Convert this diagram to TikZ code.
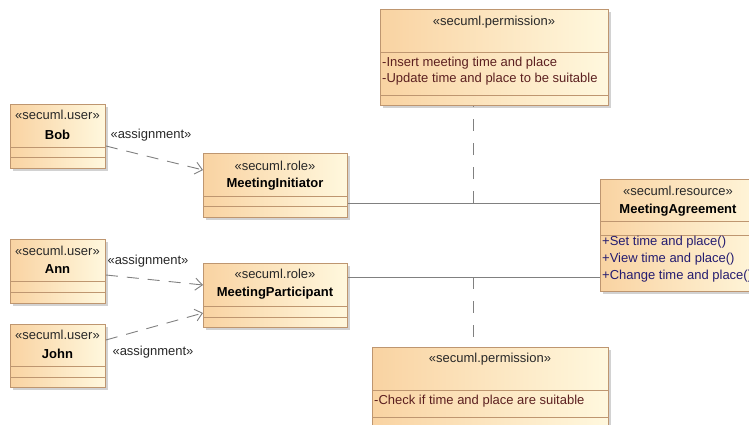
\documentclass[tikz,border=0pt]{standalone}
\usepackage{fontspec}
\setmainfont{Liberation Sans}
\usetikzlibrary{shadows,arrows.meta,calc}

\definecolor{umlorange}{RGB}{249,211,162}
\definecolor{umlpale}{RGB}{255,248,222}
\definecolor{umlborder}{RGB}{190,150,112}
\definecolor{umlline}{RGB}{128,128,128}
\definecolor{attrtext}{RGB}{92,32,32}
\definecolor{optext}{RGB}{36,28,112}
\definecolor{stereotext}{RGB}{40,40,40}

\tikzset{
  classbox/.style={draw=umlborder, line width=0.9pt, left color=umlorange,
    right color=umlpale, inner sep=0pt, anchor=north west,
    drop shadow={shadow xshift=2.5pt, shadow yshift=-2.5pt, fill=black!35, opacity=0.5}},
  compline/.style={draw=umlborder, line width=0.8pt},
  basetext/.style={inner sep=0pt, font=\fontsize{13}{16}\selectfont},
  stereo/.style={basetext, text=stereotext},
  cname/.style={basetext, font=\fontsize{13}{16}\selectfont\bfseries},
  attr/.style={basetext, anchor=west, text=attrtext},
  oper/.style={basetext, anchor=west, text=optext},
  assoc/.style={draw=umlline, line width=0.9pt},
  permdep/.style={draw=umlline, line width=0.9pt, dash pattern=on 12pt off 12pt},
  assign/.style={draw=umlline, line width=0.9pt, dash pattern=on 12pt off 9pt,
    -{Straight Barb[length=7pt,width=12pt,line width=0.9pt]}},
  asglabel/.style={basetext, text=stereotext}
}

\begin{document}
\begin{tikzpicture}[x=1pt, y=-1pt]
\useasboundingbox (0,0) rectangle (749,425);
\clip (0,0) rectangle (749,425);

% users
\node[classbox, minimum width=95pt, minimum height=64pt] (bob) at (10,104) {};
\draw[compline] ($(bob.north west)+(0,43)$) -- ($(bob.north east)+(0,43)$);
\draw[compline] ($(bob.north west)+(0,53)$) -- ($(bob.north east)+(0,53)$);
\node[stereo] (bobst) at (57.5,115) {«secuml.user»};
\node[cname] (bobnm) at (57.5,135) {Bob};

\node[classbox, minimum width=95pt, minimum height=64pt] (ann) at (10,239) {};
\draw[compline] ($(ann.north west)+(0,42)$) -- ($(ann.north east)+(0,42)$);
\draw[compline] ($(ann.north west)+(0,53)$) -- ($(ann.north east)+(0,53)$);
\node[stereo] (annst) at (57.5,251) {«secuml.user»};
\node[cname] (annnm) at (57.5,269) {Ann};

\node[classbox, minimum width=95pt, minimum height=63pt] (john) at (10,324) {};
\draw[compline] ($(john.north west)+(0,42)$) -- ($(john.north east)+(0,42)$);
\draw[compline] ($(john.north west)+(0,53)$) -- ($(john.north east)+(0,53)$);
\node[stereo] (johnst) at (57.5,335) {«secuml.user»};
\node[cname] (johnnm) at (57.5,354) {John};

% roles
\node[classbox, minimum width=144pt, minimum height=64pt] (init) at (203,153) {};
\draw[compline] ($(init.north west)+(0,43)$) -- ($(init.north east)+(0,43)$);
\draw[compline] ($(init.north west)+(0,53)$) -- ($(init.north east)+(0,53)$);
\node[stereo] (initst) at (275,166) {«secuml.role»};
\node[cname] (initnm) at (275,184) {MeetingInitiator};

\node[classbox, minimum width=144pt, minimum height=64pt] (part) at (203,263) {};
\draw[compline] ($(part.north west)+(0,43)$) -- ($(part.north east)+(0,43)$);
\draw[compline] ($(part.north west)+(0,54)$) -- ($(part.north east)+(0,54)$);
\node[stereo] (partst) at (275,274) {«secuml.role»};
\node[cname] (partnm) at (275,293) {MeetingParticipant};

% resource
\node[classbox, minimum width=170pt, minimum height=112pt] (agr) at (600,179) {};
\draw[compline] ($(agr.north west)+(0,42)$) -- ($(agr.north east)+(0,42)$);
\draw[compline] ($(agr.north west)+(0,56)$) -- ($(agr.north east)+(0,56)$);
\node[stereo] (agrst) at (678,191) {«secuml.resource»};
\node[cname] (agrnm) at (678,210) {MeetingAgreement};
\node[oper] (op1) at (602,242) {+Set time and place()};
\node[oper] (op2) at (602,259) {+View time and place()};
\node[oper] (op3) at (602,276) {+Change time and place()};

% permissions
\node[classbox, minimum width=228pt, minimum height=96pt] (perma) at (380,9) {};
\draw[compline] ($(perma.north west)+(0,43)$) -- ($(perma.north east)+(0,43)$);
\draw[compline] ($(perma.north west)+(0,86)$) -- ($(perma.north east)+(0,86)$);
\node[stereo] (permast) at (494,22) {«secuml.permission»};
\node[attr] (pa1) at (382,63) {-Insert meeting time and place};
\node[attr] (pa2) at (382,79) {-Update time and place to be suitable};

\node[classbox, minimum width=236pt, minimum height=100pt] (permb) at (372,347) {};
\draw[compline] ($(permb.north west)+(0,43)$) -- ($(permb.north east)+(0,43)$);
\draw[compline] ($(permb.north west)+(0,70)$) -- ($(permb.north east)+(0,70)$);
\node[stereo] (permbst) at (490,359) {«secuml.permission»};
\node[attr] (pb1) at (374,401) {-Check if time and place are suitable};

% associations between roles and resource
\draw[assoc] ($(init.north east)+(0,50)$) -- ($(agr.north west)+(0,24)$);
\draw[assoc] ($(part.north east)+(0,14)$) -- ($(agr.north west)+(0,98)$);

% permissions attached to the associations
\coordinate (ja) at (473,203);
\coordinate (jb) at (473,277);
\draw[permdep] (ja) -- (perma.south -| ja);
\draw[permdep] (jb) -- (permb.north -| jb);

% role assignments
\draw[assign] ($(bob.north east)+(0,42)$) -- ($(init.north west)+(0,17)$);
\draw[assign] ($(ann.north east)+(0,36)$) -- ($(part.north west)+(0,22)$);
\draw[assign] ($(john.north east)+(0,16)$) -- ($(part.north west)+(0,50)$);
\node[asglabel] (lbob) at (151,135) {«assignment»};
\node[asglabel] (lann) at (148,261) {«assignment»};
\node[asglabel] (ljohn) at (153,352) {«assignment»};
\end{tikzpicture}
\end{document}
